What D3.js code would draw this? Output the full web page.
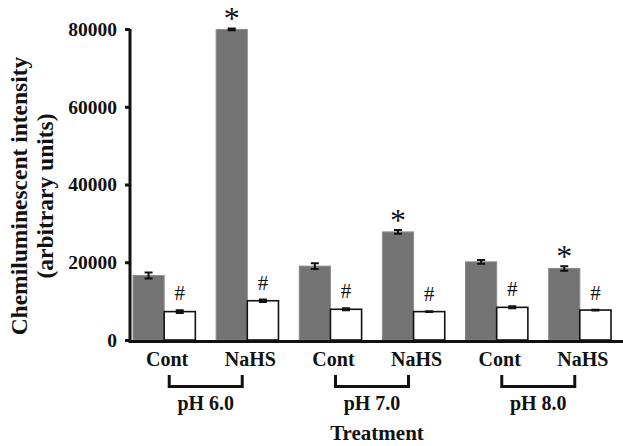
<!DOCTYPE html>
<html>
<head>
<meta charset="utf-8">
<script src="https://cdn.jsdelivr.net/npm/d3@7"></script>
<style>
  body { margin: 0; background: #fff; }
  svg text { font-family: "Liberation Serif", "Times New Roman", serif; font-weight: bold; fill: #111; }
</style>
</head>
<body>
<div id="chart"></div>
<script>
// data
const phGroups = ['pH 6.0', 'pH 7.0', 'pH 8.0']
const treatments = ['Cont', 'NaHS', 'Cont', 'NaHS', 'Cont', 'NaHS']
const grayValues = [16600, 79900, 19000, 27800, 20100, 18400]
const grayErrors = [750, 250, 750, 500, 500, 600]
const whiteValues = [7300, 10100, 7900, 7300, 8400, 7700]
const whiteErrors = [350, 300, 250, 80, 250, 80]
const starMarks = [false, true, false, true, false, true]
const hashMarks = [true, true, true, true, true, true]
const yTicks = [0, 20000, 40000, 60000, 80000]

const width = 623
const height = 446

const svg = d3.select('#chart').append('svg')
    .attr('width', width)
    .attr('height', height)

const idx = d3.range(treatments.length)

const x = d3.scaleBand()
    .domain(idx)
    .range([130, 614])
    .paddingInner(0.25)
    .paddingOuter(0.036)

const xSub = d3.scaleBand()
    .domain(['gray', 'white'])
    .range([0, x.bandwidth()])

const y = d3.scaleLinear()
    .domain([0, 80000])
    .range([340, 29])

// bars
const rows = idx.map(i => ([
    { i, key: 'gray', v: grayValues[i], e: grayErrors[i] },
    { i, key: 'white', v: whiteValues[i], e: whiteErrors[i] }
])).flat()

const bars = svg.append('g').attr('class', 'bars')

bars.selectAll('rect')
    .data(rows)
    .enter()
    .append('rect')
        .attr('x', d => x(d.i) + xSub(d.key))
        .attr('y', d => y(d.v))
        .attr('width', xSub.bandwidth())
        .attr('height', d => y(0) - y(d.v))
        .attr('fill', d => d.key == 'gray' ? '#737373' : '#fff')
        .attr('stroke', d => d.key == 'gray' ? '#8c8c8c' : '#111')
        .attr('stroke-width', d => d.key == 'gray' ? 1 : 1.6)

// error bars
const err = svg.append('g').attr('class', 'errors')
    .attr('stroke', '#111')
    .attr('stroke-width', 2)
    .attr('fill', 'none')

err.selectAll('path')
    .data(rows)
    .enter()
    .append('path')
        .attr('d', d => {
            const cx = x(d.i) + xSub(d.key) + xSub.bandwidth() / 2
            const t = y(d.v + d.e), b = y(d.v - d.e)
            return `M${cx - 4},${t}H${cx + 4}M${cx},${t}V${b}M${cx - 4},${b}H${cx + 4}`
        })

// significance marks
svg.append('g').selectAll('text')
    .data(idx.filter(i => starMarks[i]))
    .enter()
    .append('text')
        .text('*')
        .attr('x', i => x(i) + xSub('gray') + xSub.bandwidth() / 2)
        .attr('y', i => y(grayValues[i] + grayErrors[i]) + 1)
        .attr('text-anchor', 'middle')
        .style('font-size', '32px')
        .style('font-weight', 'normal')

svg.append('g').selectAll('text')
    .data(idx.filter(i => hashMarks[i]))
    .enter()
    .append('text')
        .text('#')
        .attr('x', i => x(i) + xSub('white') + xSub.bandwidth() / 2)
        .attr('y', i => y(whiteValues[i] + whiteErrors[i]) - 10)
        .attr('text-anchor', 'middle')
        .style('font-size', '21px')
        .style('font-weight', 'normal')

// axes
const yAxis = d3.axisLeft(y)
    .tickValues(yTicks)
    .tickSize(5)
    .tickPadding(8)
    .tickFormat(d3.format('d'))

const yG = svg.append('g')
    .attr('transform', 'translate(130,0)')
    .call(yAxis)

yG.select('.domain').attr('stroke', '#111').attr('stroke-width', 3)
    .attr('d', `M0,${y(80000)}V${y(0) + 3}`)
yG.selectAll('.tick line').attr('stroke', '#111').attr('stroke-width', 3)
yG.selectAll('.tick text')
    .style('font-size', '19.5px')
    .style('font-family', '"Liberation Serif", serif')
    .style('font-weight', 'bold')
    .attr('fill', '#111')

svg.append('line')
    .attr('x1', 130).attr('x2', width)
    .attr('y1', 341.5).attr('y2', 341.5)
    .attr('stroke', '#111')
    .attr('stroke-width', 3)

// category labels
svg.append('g').selectAll('text')
    .data(idx)
    .enter()
    .append('text')
        .text(i => treatments[i])
        .attr('x', i => x(i) + x.bandwidth() / 2 + 3)
        .attr('y', 366)
        .attr('text-anchor', 'middle')
        .style('font-size', '20px')

// pH brackets
const groupMid = g => (x(2 * g) + x(2 * g + 1) + x.bandwidth()) / 2

svg.append('g').selectAll('path')
    .data(phGroups)
    .enter()
    .append('path')
        .attr('d', (d, g) => {
            const m = groupMid(g)
            return `M${m - 36.5},375V386.5H${m + 36.5}V375`
        })
        .attr('fill', 'none')
        .attr('stroke', '#111')
        .attr('stroke-width', 3)

svg.append('g').selectAll('text')
    .data(phGroups)
    .enter()
    .append('text')
        .text(d => d)
        .attr('x', (d, g) => groupMid(g))
        .attr('y', 410)
        .attr('text-anchor', 'middle')
        .style('font-size', '20px')

// titles
svg.append('text')
    .text('Treatment')
    .attr('x', 377)
    .attr('y', 440)
    .attr('text-anchor', 'middle')
    .style('font-size', '21px')

const yTitle = svg.append('text')
    .attr('transform', 'translate(0,196) rotate(-90)')
    .attr('text-anchor', 'middle')
    .style('font-size', '23.5px')

yTitle.append('tspan').attr('x', 0).attr('y', 27).text('Chemiluminescent intensity')
yTitle.append('tspan').attr('x', 0).attr('y', 53).text('(arbitrary units)')
</script>
</body>
</html>
